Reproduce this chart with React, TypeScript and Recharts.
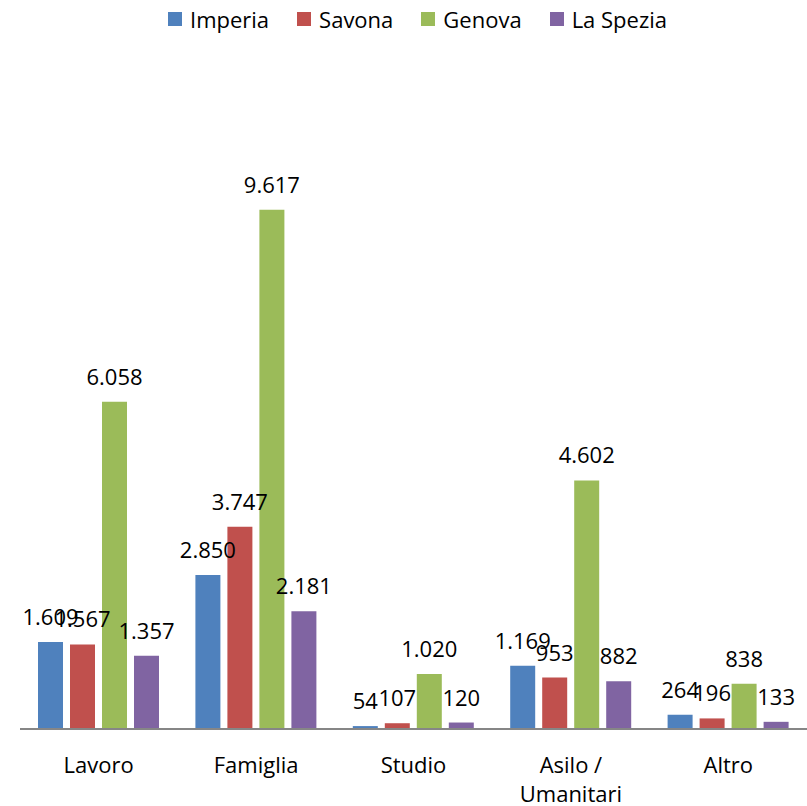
import React from 'react';
import { BarChart, Bar, XAxis, YAxis, LabelList } from 'recharts';

const categories = ['Lavoro', 'Famiglia', 'Studio', 'Asilo / Umanitari', 'Altro'];
const seriesNames = ['Imperia', 'Savona', 'Genova', 'La Spezia'];
const seriesColors = ['#4F81BD', '#C0504D', '#9BBB59', '#8064A2'];
const imperia = [1609, 2850, 54, 1169, 264];
const savona = [1567, 3747, 107, 953, 196];
const genova = [6058, 9617, 1020, 4602, 838];
const laSpezia = [1357, 2181, 120, 882, 133];

const seriesValues = [imperia, savona, genova, laSpezia];

const data = categories.map((name, i) => {
  const row: Record<string, string | number> = { name };
  seriesNames.forEach((s, j) => {
    row[s] = seriesValues[j][i];
  });
  return row;
});

const FONT = '"Open Sans", "Noto Sans", sans-serif';
const FS = 22;

const formatIt = (v: any) => String(v).replace(/\B(?=(\d{3})+(?!\d))/g, '.');

const CategoryTick = (props: any) => {
  const { x, y, payload } = props;
  const label: string = payload.value;
  const lines = label.includes(' / ') ? [label.split(' / ')[0] + ' /', label.split(' / ')[1]] : [label];
  return (
    <text x={x} y={y} textAnchor="middle" fill="#000" fontSize={FS} fontFamily={FONT}>
      {lines.map((l, i) => (
        <tspan key={i} x={x} dy={i === 0 ? 36 : 29}>
          {l}
        </tspan>
      ))}
    </text>
  );
};

const App = () => {
  return (
    <div style={{ position: 'absolute', left: 0, top: 0, width: 807, height: 806, background: '#fff' }}>
      <div
        style={{
          position: 'absolute',
          top: 4,
          left: 0,
          width: 807,
          display: 'flex',
          justifyContent: 'center',
          fontFamily: FONT,
          fontSize: FS,
          color: '#000',
          paddingLeft: 56,
          boxSizing: 'border-box',
        }}
      >
        {seriesNames.map((s, i) => (
          <div key={s} style={{ display: 'flex', alignItems: 'center', marginRight: 28 }}>
            <span style={{ display: 'inline-block', width: 14, height: 14, background: seriesColors[i], marginRight: 8 }} />
            <span>{s}</span>
          </div>
        ))}
      </div>
      <BarChart
        width={807}
        height={806}
        data={data}
        margin={{ top: 81, right: 0, bottom: 0, left: 20 }}
        barSize={25}
        barGap={7}
      >
        <XAxis
          dataKey="name"
          axisLine={{ stroke: '#868686', strokeWidth: 2 }}
          tickLine={false}
          height={77}
          interval={0}
          tick={<CategoryTick />}
        />
        <YAxis hide domain={[0, 12000]} />
        {seriesNames.map((s, i) => (
          <Bar key={s} dataKey={s} fill={seriesColors[i]} isAnimationActive={false}>
            <LabelList
              dataKey={s}
              position="top"
              offset={17}
              formatter={formatIt}
              fill="#000"
              fontSize={FS}
              fontFamily={FONT}
            />
          </Bar>
        ))}
      </BarChart>
    </div>
  );
};

export default App;
